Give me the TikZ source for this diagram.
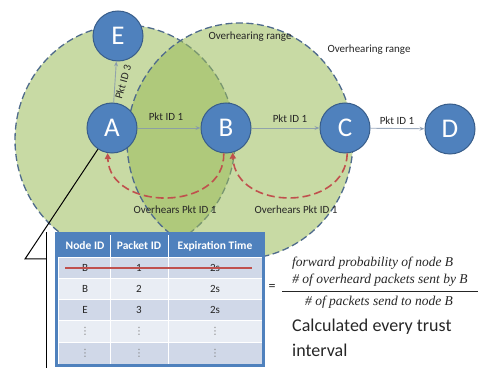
\documentclass[tikz,border=0pt]{standalone}
\usepackage{fontspec}
\setmainfont{Carlito}
\newfontfamily\formfont{Liberation Serif}
\newfontfamily\symfont{DejaVu Sans}
\usetikzlibrary{arrows.meta}
\definecolor{nodeblue}{HTML}{4F81BD}
\definecolor{nodeedge}{HTML}{385D8A}
\definecolor{rangegreen}{HTML}{9BBB59}
\definecolor{rangeedge}{HTML}{4F6B8C}
\definecolor{redarc}{HTML}{C0504D}
\definecolor{arrowgray}{HTML}{8496AE}
\definecolor{rowdark}{HTML}{D0D8E8}
\definecolor{rowlight}{HTML}{E9EDF4}
\definecolor{txt}{HTML}{262626}
\begin{document}
\begin{tikzpicture}[x=1pt,y=-1pt,
  netnode/.style={circle,fill=nodeblue,draw=nodeedge,line width=1pt,minimum size=50pt,inner sep=0pt,text=white,font=\fontsize{27}{27}\selectfont},
  ovrange/.style={fill=rangegreen,fill opacity=0.55,draw=rangeedge,draw opacity=1,line width=1.3pt,dash pattern=on 7pt off 3.5pt},
  pkt/.style={draw=arrowgray,draw opacity=0.8,line width=0.9pt,-{Stealth[length=5pt,width=4pt]}},
  overhear/.style={draw=redarc,line width=1.6pt,dash pattern=on 8pt off 4pt,-{Triangle[length=6pt,width=6pt]}},
  lbl/.style={font=\fontsize{11}{12}\selectfont,text=txt,inner sep=1pt},
  hdr/.style={font=\bfseries\fontsize{11.5}{12}\selectfont,text=white,inner sep=0pt},
  cell/.style={font=\fontsize{11}{12}\selectfont,text=txt,inner sep=0pt},
  dotcell/.style={font=\symfont\fontsize{10}{10}\selectfont,text=gray,inner sep=0pt},
  formula/.style={font=\formfont\itshape\fontsize{13.5}{15}\selectfont,text=txt,inner sep=0pt},
  note/.style={font=\fontsize{18}{20}\selectfont,text=txt,inner sep=0pt,anchor=west},
  callout/.style={draw=black,line width=1pt}
]
\useasboundingbox (0,0) rectangle (487,371);

% overhearing ranges
\draw[ovrange] (125,140) ellipse [x radius=110pt, y radius=115pt];
\draw[ovrange] (240,141) ellipse [x radius=113pt, y radius=118pt];

% nodes
\node[netnode] (A) at (112,128) {A};
\node[netnode] (B) at (226,128) {B};
\node[netnode] (C) at (345,128) {C};
\node[netnode] (D) at (450,129) {D};
\node[netnode] (E) at (118,36) {E};

% packet arrows
\draw[pkt] (A) -- (B);
\draw[pkt] (B) -- (C);
\draw[pkt] (C) -- (D);
\draw[pkt] (A) -- (E);

% labels
\node[lbl] (ovr1) at (250,37) {Overhearing range};
\node[lbl] (ovr2) at (369,50) {Overhearing range};
\node[lbl] (pab) at (166,117) {Pkt ID 1};
\node[lbl] (pbc) at (290,119) {Pkt ID 1};
\node[lbl] (pcd) at (397,121) {Pkt ID 1};
\node[lbl,rotate=74] (pae) at (123,82) {Pkt ID 3};
\node[lbl] (oh1) at (175,210) {Overhears Pkt ID 1};
\node[lbl] (oh2) at (296,210) {Overhears Pkt ID 1};

% overhearing arcs
\draw[overhear] (B.-95) .. controls (225,212) and (110,212) .. (A.-100);
\draw[overhear] (C.-85) .. controls (346,212) and (236,212) .. (B.-75);

% table
\fill[white] (55,232) rectangle (265,367);
\fill[nodeblue] (58,235) rectangle (262,257);
\foreach \ya/\yb/\col in {257/278/rowdark, 278/299/rowlight, 299/320/rowdark, 320/342/rowlight, 342/364/rowdark}{
  \foreach \xa/\xb in {58/110, 110/168, 168/262}{
    \filldraw[fill=\col,draw=white,line width=0.8pt] (\xa,\ya) rectangle (\xb,\yb);
  }
}
\draw[white,line width=0.8pt] (110,235) -- (110,257);
\draw[white,line width=0.8pt] (168,235) -- (168,257);
\draw[nodeblue,line width=3.5pt] (56.5,233.5) rectangle (263.5,365.5);

\node[hdr] (h1) at (85,246) {Node ID};
\node[hdr] (h2) at (139,246) {Packet ID};
\node[hdr] (h3) at (215,246) {Expiration Time};
\node[cell] (r1a) at (85,268) {B};
\node[cell] (r1b) at (139,268) {1};
\node[cell] (r1c) at (215,268) {2s};
\node[cell] (r2a) at (85,289) {B};
\node[cell] (r2b) at (139,289) {2};
\node[cell] (r2c) at (215,289) {2s};
\node[cell] (r3a) at (85,310) {E};
\node[cell] (r3b) at (139,310) {3};
\node[cell] (r3c) at (215,310) {2s};
\node[dotcell] (r4a) at (85,331) {⋮};
\node[dotcell] (r4b) at (139,331) {⋮};
\node[dotcell] (r4c) at (215,331) {⋮};
\node[dotcell] (r5a) at (85,353) {⋮};
\node[dotcell] (r5b) at (139,353) {⋮};
\node[dotcell] (r5c) at (215,353) {⋮};
\coordinate (sL) at (65,268);
\coordinate (sR) at (252,268);
\draw[redarc,line width=1.3pt] (sL) -- (sR);

% callout
\coordinate (cA) at (25,259);
\coordinate (cB) at (46,259);
\coordinate (cT) at (46,232);
\coordinate (cBot) at (46,368);
\draw[callout] (A) -- (cA) -- (cB);
\draw[callout] (cT) -- (cBot);

% formula
\node[formula,anchor=west] (fp) at (292,263) {forward probability of node B};
\node[formula,font=\fontsize{14}{15}\selectfont] (eq) at (272,287) {=};
\node[formula] (num) at (380,280) {\# of overheard packets sent by B};
\node[formula] (den) at (379,302) {\# of packets send to node B};
\coordinate (fl) at (282,291);
\coordinate (fr) at (478,291);
\draw[txt,line width=0.6pt] (fl) -- (fr);
\node[note] (calc) at (292,327) {Calculated every trust};
\node[note] (intv) at (292,350) {interval};
\end{tikzpicture}
\end{document}
